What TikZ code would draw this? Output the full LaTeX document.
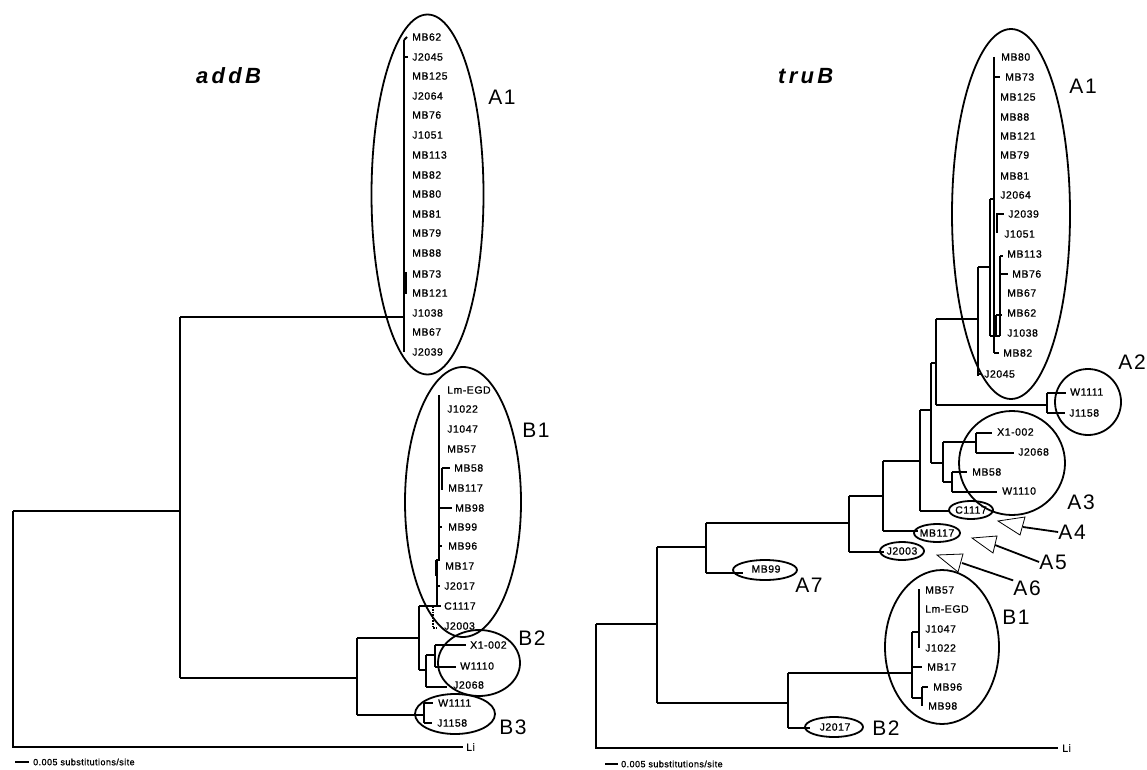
\documentclass[tikz,border=0pt]{standalone}
\usepackage{fontspec}
\setmainfont{Liberation Sans}
\newfontfamily\labfont[LetterSpace=5,FakeBold=1]{Liberation Sans}
\newfontfamily\bigfont[LetterSpace=8]{Liberation Sans}
\newfontfamily\titfont[LetterSpace=15]{Liberation Sans}
\begin{document}
\begin{tikzpicture}[x=1pt,y=-1pt,
  br/.style={line width=1.8pt},
  thk/.style={line width=2.8pt},
  cl/.style={line width=1.8pt},
  lab/.style={font=\labfont\fontsize{10.5}{12}\selectfont, anchor=west, inner sep=0pt},
  clab/.style={font=\labfont\fontsize{10.5}{12}\selectfont, inner sep=0pt},
  big/.style={font=\bigfont\fontsize{21}{24}\selectfont, inner sep=0pt},
  tit/.style={font=\titfont\bfseries\itshape\fontsize{22}{26}\selectfont, inner sep=0pt},
  sc/.style={font=\labfont\fontsize{9}{11}\selectfont, anchor=west, inner sep=0pt},
  tri/.style={draw, line width=0.8pt, fill=white, line join=miter},
]
\useasboundingbox (0,0) rectangle (1147,770);

% ================= LEFT TREE (addB) =================
\node[tit, anchor=west] (t1) at (196,76) {addB};

% backbone
\draw[br] (13,511) -- (13,747) -- (463,747);
\node[lab] (LiL) at (466,747) {Li};
\draw[br] (13,511) -- (180,511);
\draw[br] (180,317) -- (180,678);
\draw[br] (180,317) -- (404,317);
% A1
\draw[br] (404,40) -- (404,352);
\draw[br] (404,40) -- (407,37);
\draw[br] (404,57) -- (408,57);
\draw[thk] (406,272) -- (406,294);
\foreach \n/\y in {MB62/37,J2045/57,MB125/76,J2064/96,MB76/115,J1051/135,MB113/155,MB82/175,MB80/194,MB81/214,MB79/233,MB88/253,MB73/274,MB121/293,J1038/313,MB67/332,J2039/352}
  \node[lab] (L\n) at (412,\y) {\n};
\draw[cl] (427.5,194.5) ellipse [x radius=56, y radius=180];
\node[big] (A1L) at (502,97) {A1};

% B clusters
\draw[br] (180,678) -- (357,678);
\draw[br] (357,638) -- (357,715);
\draw[br] (357,638) -- (419,638);
\draw[br] (419,606) -- (419,670);
\draw[br] (419,606) -- (441,606);
\draw[br] (439,395) -- (439,560) -- (437,560) -- (437,606);
\draw[thk] (439,428) -- (439,450);
\draw[thk] (442,468) -- (442,490);
\draw[br] (442,468) -- (450,468);
\draw[br] (439,508) -- (452,508);
\draw[br] (439,527) -- (442,527);
\draw[br] (439,546) -- (442,546);
\draw[thk] (436,560) -- (436,576);
\draw[br] (437,586) -- (440,586);
\draw[br,densely dotted] (433,606) -- (433,628) -- (437,628);
\foreach \n/\y/\x in {Lm-EGD/390/447,J1022/409/447,J1047/429/447,MB57/449/447,MB58/468/454,MB117/488/448,MB98/508/455,MB99/527/448,MB96/546/448,MB17/566/445,J2017/586/444,C1117/606/444,J2003/626/444}
  \node[lab] (L\n) at (\x,\y) {\n};
\draw[cl] (463,502) ellipse [x radius=58, y radius=135];
\node[big] (B1L) at (536,430) {B1};

% B2
\draw[br] (419,670) -- (426,670);
\draw[br] (426,655) -- (426,687);
\draw[br] (426,687) -- (447,687);
\draw[br] (426,655) -- (435,655);
\draw[br] (435,645) -- (435,667);
\draw[br] (435,645) -- (466,645);
\draw[br] (435,667) -- (456,667);
\node[lab] (LX1) at (470,645) {X1-002};
\node[lab] (LW1110) at (460,666) {W1110};
\node[lab] (LJ2068) at (453,685) {J2068};
\draw[cl] (479,663) ellipse [x radius=41, y radius=33];
\node[big] (B2L) at (532,638) {B2};

% B3
\draw[br] (357,715) -- (424,715);
\draw[br] (424,703) -- (424,723);
\draw[br] (424,703) -- (433,703);
\draw[br] (424,723) -- (432,723);
\node[lab] (LW1111) at (438,703) {W1111};
\node[lab] (LJ1158) at (437,723) {J1158};
\draw[cl] (455,714) ellipse [x radius=40, y radius=20];
\node[big] (B3L) at (513,727) {B3};

% scale
\draw[line width=2pt] (15,762) -- (29,762);
\node[sc] (scL) at (33,762) {0.005 substitutions/site};

% ================= RIGHT TREE (truB) =================
\node[tit, anchor=west] (t2) at (778,76) {truB};

\draw[br] (596,624) -- (596,748) -- (1058,748);
\node[lab] (LiR) at (1062,748) {Li};
\draw[br] (596,624) -- (657,624);
\draw[br] (657,547) -- (657,703);
\draw[br] (657,547) -- (706,547);
\draw[br] (706,523) -- (706,573);
\draw[br] (706,573) -- (743,573);
\draw[cl] (765,570) ellipse [x radius=32, y radius=10];
\node[clab] (RMB99) at (766,569) {MB99};
\node[big] (A7L) at (809,585) {A7};
\draw[br] (706,523) -- (849,523);
\draw[br] (849,496) -- (849,552);
\draw[br] (849,552) -- (884,552);
\draw[cl] (902,551) ellipse [x radius=22, y radius=9];
\node[clab] (RJ2003) at (902,551) {J2003};
\draw[br] (849,496) -- (883,496);
\draw[br] (883,461) -- (883,531);
\draw[br] (883,531) -- (918,531);
\draw[cl] (937,533) ellipse [x radius=23, y radius=9];
\node[clab] (RMB117) at (937,533) {MB117};
\draw[br] (883,461) -- (920,461);
\draw[br] (920,410) -- (920,511);
\draw[br] (920,511) -- (950,511);
\draw[cl] (971,510) ellipse [x radius=22, y radius=9];
\node[clab] (RC1117) at (971,510) {C1117};
\draw[br] (920,410) -- (931,410);
\draw[br] (931,363) -- (931,463);
% A3
\draw[br] (931,463) -- (943,463);
\draw[br] (943,442) -- (943,482);
\draw[br] (943,442) -- (976,442);
\draw[br] (976,433) -- (976,453);
\draw[br] (976,433) -- (992,433);
\draw[br] (976,453) -- (1014,453);
\draw[br] (943,482) -- (952,482);
\draw[br] (952,472) -- (952,492);
\draw[br] (952,472) -- (967,472);
\draw[br] (952,492) -- (997,492);
\node[lab] (RX1) at (997,432) {X1-002};
\node[lab] (RJ2068) at (1018,452) {J2068};
\node[lab] (RMB58) at (972,472) {MB58};
\node[lab] (RW1110) at (1002,491) {W1110};
\draw[cl] (1012,463) ellipse [x radius=53, y radius=52];
\node[big] (A3L) at (1081,502) {A3};
% A2
\draw[br] (931,363) -- (936,363);
\draw[br] (936,319) -- (936,405);
\draw[br] (936,405) -- (1047,405);
\draw[br] (1047,393) -- (1047,413);
\draw[br] (1047,393) -- (1066,393);
\draw[br] (1047,413) -- (1065,413);
\node[lab] (RW1111) at (1070,392) {W1111};
\node[lab] (RJ1158) at (1069,413) {J1158};
\draw[cl] (1088,402) circle [radius=33];
\node[big] (A2L) at (1132,362) {A2};
% A1
\draw[br] (936,319) -- (978,319);
\draw[br] (978,267) -- (978,376);
\draw[br] (978,374) -- (982,374);
\draw[br] (978,267) -- (990,267);
\draw[br] (990,199) -- (990,336);
\draw[br] (990,199) -- (994,199);
\draw[br] (994,57) -- (994,353);
\draw[br] (994,353) -- (999,353);
\draw[br] (990,336) -- (1000,336);
\draw[br] (1000,256) -- (1000,336);
\draw[br] (1000,256) -- (1003,256);
\draw[br] (1000,274) -- (1008,274);
\draw[br] (996,315) -- (996,335);
\draw[br] (996,315) -- (1002,315);
\draw[thk] (997,213) -- (997,233);
\draw[br] (997,214) -- (1004,214);
\draw[br] (994,77) -- (1000,77);
\foreach \n/\y/\x in {MB80/57/1001,MB73/77/1005,MB125/97/1000,MB88/117/1000,MB121/136/1000,MB79/155/1000,MB81/176/1000,J2064/195/1000,J2039/214/1008,J1051/234/1004,MB113/254/1007,MB76/274/1012,MB67/293/1007,MB62/313/1007,J1038/333/1007,MB82/353/1003,J2045/374/984}
  \node[lab] (R\n) at (\x,\y) {\n};
\draw[cl] (1011,214) ellipse [x radius=59, y radius=185];
\node[big] (A1R) at (1083,86) {A1};

% A4 A5 A6 pointers
\node[big] (A4L) at (1072,532) {A4};
\node[big] (A5L) at (1053,562) {A5};
\node[big] (A6L) at (1027,588) {A6};
\draw[br] (1023,527) -- (A4L.west);
\draw[br] (995,545) -- (A5L.west);
\draw[br] (962,563) -- (A6L.north west);
\draw[tri] (998,521) -- (1025,517) -- (1020,535) -- cycle;
\draw[tri] (972,538) -- (997,536) -- (993,553) -- cycle;
\draw[tri] (937,555) -- (963,554) -- (958,572) -- cycle;

% B clusters right
\draw[br] (657,703) -- (788,703);
\draw[br] (788,673) -- (788,728);
\draw[br] (788,728) -- (810,728);
\draw[cl] (834,727) ellipse [x radius=29, y radius=10];
\node[clab] (RJ2017) at (835,727) {J2017};
\node[big] (B2R) at (886,728) {B2};
\draw[br] (788,673) -- (912,673);
\draw[br] (912,632) -- (912,698);
\draw[br] (912,632) -- (919,632);
\draw[br] (919,589) -- (919,648);
\draw[br] (912,667) -- (922,667);
\draw[br] (912,698) -- (922,698);
\draw[thk] (922,687) -- (922,706);
\draw[br] (922,687) -- (928,687);
\foreach \n/\y/\x in {MB57/590/925,Lm-EGD/609/925,J1047/629/925,J1022/648/925,MB17/667/927,MB96/687/933,MB98/706/928}
  \node[lab] (R\n) at (\x,\y) {\n};
\draw[cl] (942,647) ellipse [x radius=57, y radius=77];
\node[big] (B1R) at (1016,617) {B1};

\draw[line width=2pt] (605,764) -- (618,764);
\node[sc] (scR) at (621,764) {0.005 substitutions/site};
\end{tikzpicture}
\end{document}
